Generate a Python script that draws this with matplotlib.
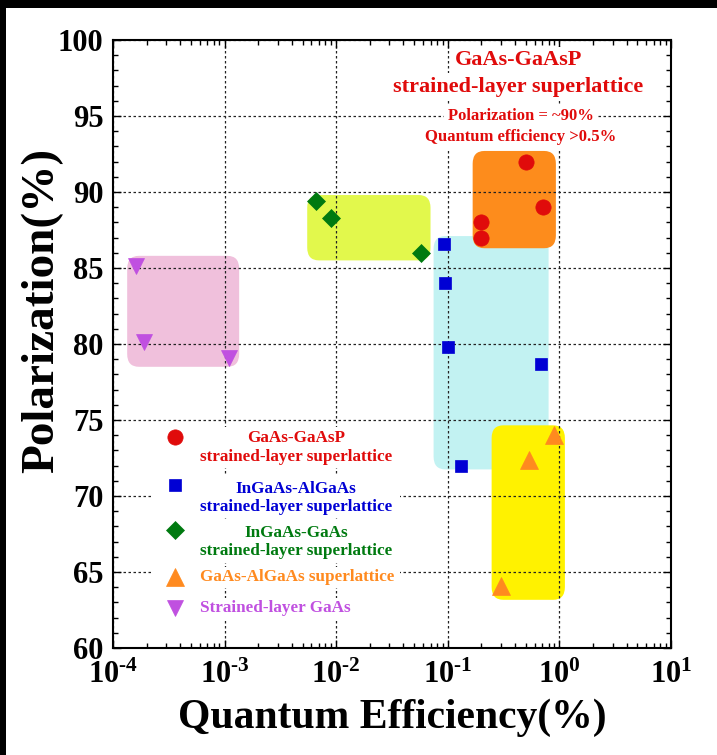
import math
import matplotlib
matplotlib.use("Agg")
import matplotlib.pyplot as plt
from matplotlib.patches import FancyBboxPatch, Rectangle
from matplotlib.ticker import FixedLocator, MultipleLocator, FuncFormatter, LogLocator

plt.rcParams['font.family'] = ['Liberation Serif', 'DejaVu Serif']
plt.rcParams['font.weight'] = 'bold'
plt.rcParams['mathtext.fontset'] = 'custom'
plt.rcParams['mathtext.rm'] = 'Liberation Serif:bold'
plt.rcParams['mathtext.bf'] = 'Liberation Serif:bold'
plt.rcParams['mathtext.it'] = 'Liberation Serif:bold'

# ---- data ----
series_names = ["GaAs-GaAsP\nstrained-layer superlattice",
                "InGaAs-AlGaAs\nstrained-layer superlattice",
                "InGaAs-GaAs\nstrained-layer superlattice",
                "GaAs-AlGaAs superlattice",
                "Strained-layer GaAs"]
series_colors = ["#e00b0b", "#0000d4", "#007a10", "#ff8a1f", "#c050e0"]
series_markers = ["o", "s", "D", "^", "v"]
series_ms = [11, 8.5, 9, 13, 12]

gaasp_qe = [0.50, 0.72, 0.20, 0.20]
gaasp_pol = [92.0, 89.0, 88.0, 87.0]
ingaas_algaas_qe = [0.092, 0.095, 0.10, 0.69, 0.13]
ingaas_algaas_pol = [86.6, 84.0, 79.8, 78.7, 72.0]
ingaas_gaas_qe = [0.0066, 0.0089, 0.057]
ingaas_gaas_pol = [89.4, 88.3, 86.0]
gaas_algaas_qe = [0.89, 0.53, 0.30]
gaas_algaas_pol = [74.0, 72.4, 64.1]
strained_gaas_qe = [1.6e-4, 1.9e-4, 1.1e-3]
strained_gaas_pol = [85.1, 80.1, 79.1]

series_x = [gaasp_qe, ingaas_algaas_qe, ingaas_gaas_qe, gaas_algaas_qe, strained_gaas_qe]
series_y = [gaasp_pol, ingaas_algaas_pol, ingaas_gaas_pol, gaas_algaas_pol, strained_gaas_pol]

# highlight regions (QE min, QE max, Pol min, Pol max)
region_qe_min = [1.34e-4, 5.5e-3, 0.0746, 0.247, 0.167]
region_qe_max = [1.35e-3, 0.070, 0.80, 1.12, 0.93]
region_pol_min = [78.5, 85.5, 71.75, 63.17, 86.3]
region_pol_max = [85.8, 89.8, 87.1, 74.65, 92.7]
region_colors = ["#f0c0dc", "#e2f84c", "#c2f2f2", "#fff200", "#fd8c1c"]

xticks = [1e-4, 1e-3, 1e-2, 1e-1, 1e0, 1e1]
yticks = [60, 65, 70, 75, 80, 85, 90, 95, 100]

# ---- figure ----
fig = plt.figure(figsize=(7.17, 7.55), dpi=100)
ax = fig.add_axes([113/717, 1-648/755, 558/717, 608/755])
ax.set_xscale('log')
ax.set_xlim(1e-4, 1e1)
ax.set_ylim(60, 100)

def to_axes(x, y):
    return ax.transLimits.transform(ax.transScale.transform((x, y)))

for x0, x1, y0, y1, c in zip(region_qe_min, region_qe_max, region_pol_min, region_pol_max, region_colors):
    a0 = to_axes(x0, y0)
    a1 = to_axes(x1, y1)
    p = FancyBboxPatch((a0[0], a0[1]), a1[0]-a0[0], a1[1]-a0[1],
                       boxstyle="round,pad=0,rounding_size=0.021",
                       transform=ax.transAxes, facecolor=c, edgecolor='none', zorder=0.2)
    ax.add_patch(p)

ax.set_axisbelow(True)
ax.grid(True, which='major', color='#222222', linestyle=(0, (2.0, 2.0)), linewidth=0.9)

for xs, ys, c, m, ms in zip(series_x, series_y, series_colors, series_markers, series_ms):
    ax.plot(xs, ys, linestyle='none', marker=m, markersize=ms, color=c,
            markeredgecolor=c, markeredgewidth=0.5, zorder=5)

ax.xaxis.set_major_locator(FixedLocator(xticks))
ax.xaxis.set_minor_locator(LogLocator(base=10, subs=range(2, 10), numticks=20))
ax.yaxis.set_major_locator(FixedLocator(yticks))
ax.yaxis.set_minor_locator(MultipleLocator(1))

def xfmt(v, pos):
    e = int(round(math.log10(v)))
    if e < 0:
        return r'$\mathbf{10^{\text{-}%d}}$' % (-e)
    return r'$\mathbf{10^{%d}}$' % e
ax.xaxis.set_major_formatter(FuncFormatter(xfmt))
ax.set_yticklabels([str(t) for t in yticks])

ax.tick_params(which='both', direction='in', top=True, right=True, labelsize=22, width=1.0)
ax.tick_params(which='major', length=6)
ax.tick_params(axis='x', which='major', pad=9)
ax.tick_params(axis='y', which='major', pad=7)
ax.tick_params(which='minor', length=3.5)
for lab in ax.get_xticklabels() + ax.get_yticklabels():
    lab.set_fontweight('bold')
for s in ax.spines.values():
    s.set_linewidth(1.5)

ax.set_xlabel("Quantum Efficiency(%)", fontsize=30, fontweight='bold')
ax.xaxis.set_label_coords(0.5, -0.083)
ax.set_ylabel("Polarization(%)", fontsize=34, fontweight='bold')
ax.yaxis.set_label_coords(-0.09, 0.555)

# legend (manual)
leg_marker_x = 0.111
leg_marker_y = [0.347, 0.268, 0.194, 0.117, 0.066]
leg_text_y = [0.330, 0.247, 0.174, 0.117, 0.066]
leg_box = [(0.296, 0.3635), (0.214, 0.2845), (0.140, 0.209), (0.0987, 0.133), (0.046, 0.082)]
for i in range(5):
    b0, b1 = leg_box[i]
    ax.add_patch(Rectangle((0.07, b0), 0.445, b1-b0, transform=ax.transAxes,
                           facecolor='white', edgecolor='none', zorder=3))
    ax.plot([leg_marker_x], [leg_marker_y[i]], transform=ax.transAxes, linestyle='none',
            marker=series_markers[i], markersize=series_ms[i], color=series_colors[i],
            markeredgecolor=series_colors[i], markeredgewidth=0.5, zorder=5, clip_on=False)
    ax.text(0.156, leg_text_y[i], series_names[i], transform=ax.transAxes, ha='left', va='center',
            multialignment='center', fontsize=12.3, fontweight='bold', color=series_colors[i],
            zorder=6, linespacing=1.2)

# annotation
ann = [("GaAs-GaAsP", 0.726, 0.967, 16),
       ("strained-layer superlattice", 0.726, 0.923, 16),
       ("Polarization = ~90%", 0.731, 0.875, 12),
       ("Quantum efficiency >0.5%", 0.731, 0.840, 12)]
for t, x, y, fs in ann:
    ax.text(x, y, t, transform=ax.transAxes, ha='center', va='center', fontsize=fs,
            fontweight='bold', color='#e00b0b', zorder=6,
            bbox=dict(facecolor='white', edgecolor='none', pad=2.5))

# black frame strips
fig.patches.append(Rectangle((0, 1-8/755), 1, 8/755, transform=fig.transFigure,
                             facecolor='black', edgecolor='none', zorder=10))
fig.patches.append(Rectangle((0, 0), 6/717, 1, transform=fig.transFigure,
                             facecolor='black', edgecolor='none', zorder=10))

fig.savefig("out.png", dpi=100)
